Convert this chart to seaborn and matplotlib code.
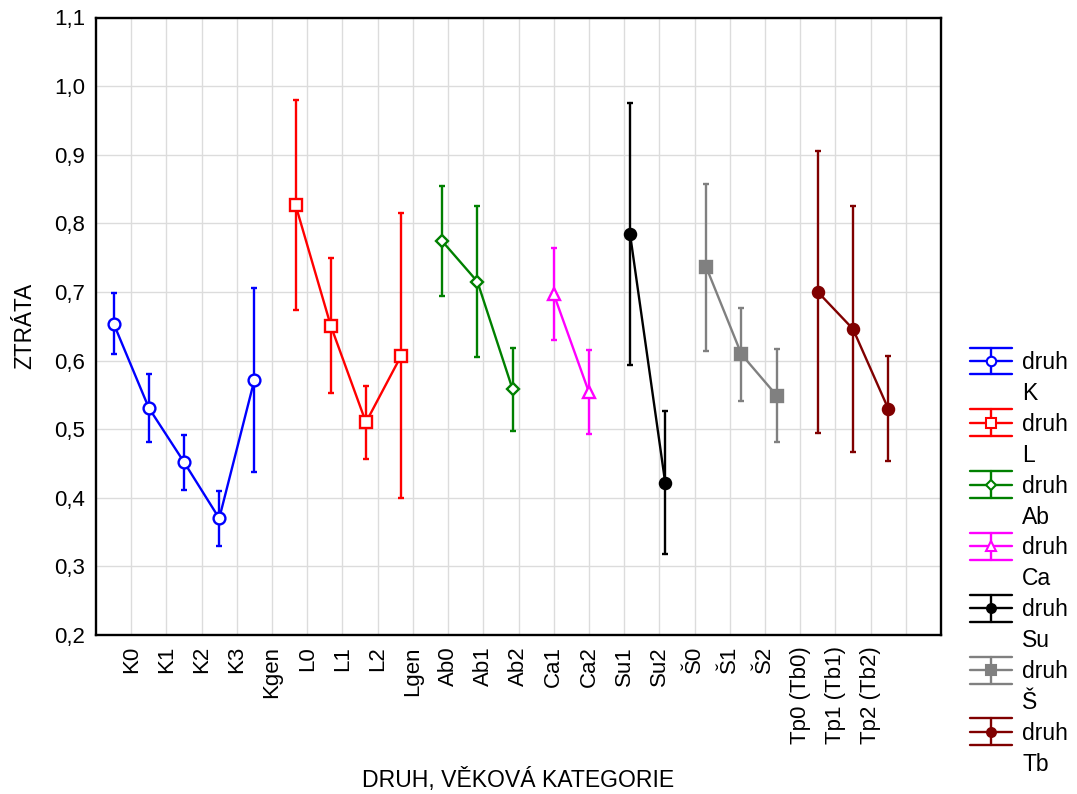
import numpy as np
import pandas as pd
import matplotlib
matplotlib.use("Agg")
import matplotlib.pyplot as plt
import seaborn as sns
from matplotlib.lines import Line2D
from matplotlib.patches import Rectangle
from matplotlib.legend_handler import HandlerBase
from matplotlib.ticker import FuncFormatter, MultipleLocator

# ---------------- data ----------------
categories = ["K0", "K1", "K2", "K3", "Kgen", "L0", "L1", "L2", "Lgen",
              "Ab0", "Ab1", "Ab2", "Ca1", "Ca2", "Su1", "Su2",
              "Š0", "Š1", "Š2", "Tp0 (Tb0)", "Tp1 (Tb1)", "Tp2 (Tb2)"]
series_names = ["K", "L", "Ab", "Ca", "Su", "Š", "Tb"]

mean_K = [0.654, 0.531, 0.452, 0.370, 0.572]
mean_L = [0.827, 0.651, 0.510, 0.607]
mean_Ab = [0.774, 0.715, 0.558]
mean_Ca = [0.697, 0.554]
mean_Su = [0.785, 0.422]
mean_S = [0.736, 0.609, 0.549]
mean_Tb = [0.700, 0.646, 0.530]

ci_K = [0.045, 0.050, 0.040, 0.040, 0.134]
ci_L = [0.153, 0.099, 0.053, 0.208]
ci_Ab = [0.080, 0.110, 0.061]
ci_Ca = [0.067, 0.061]
ci_Su = [0.191, 0.104]
ci_S = [0.122, 0.068, 0.068]
ci_Tb = [0.206, 0.179, 0.076]

means = {"K": mean_K, "L": mean_L, "Ab": mean_Ab, "Ca": mean_Ca,
         "Su": mean_Su, "Š": mean_S, "Tb": mean_Tb}
cis = {"K": ci_K, "L": ci_L, "Ab": ci_Ab, "Ca": ci_Ca,
       "Su": ci_Su, "Š": ci_S, "Tb": ci_Tb}

colors = {"K": "#0000FF", "L": "#FF0000", "Ab": "#008000", "Ca": "#FF00FF",
          "Su": "#000000", "Š": "#808080", "Tb": "#800000"}
markers = {"K": "o", "L": "s", "Ab": "D", "Ca": "^", "Su": "o", "Š": "s", "Tb": "o"}
msizes = {"K": 8.5, "L": 8.5, "Ab": 6.5, "Ca": 8.5, "Su": 8.0, "Š": 8.5, "Tb": 8.0}
filled = {"K": False, "L": False, "Ab": False, "Ca": False, "Su": True, "Š": True, "Tb": True}

# ---------------- style ----------------
sns.set_theme(style="white")
plt.rcParams["font.family"] = ["Liberation Sans", "DejaVu Sans"]
plt.rcParams["text.color"] = "black"
plt.rcParams["axes.labelcolor"] = "black"
plt.rcParams["xtick.color"] = "black"
plt.rcParams["ytick.color"] = "black"

FS = 16
W, H = 1077, 794
fig = plt.figure(figsize=(W / 100, H / 100), dpi=100)
fig.patch.set_facecolor("white")
ax_l, ax_r, ax_t, ax_b = 96, 941, 17.5, 635
ax = fig.add_axes([ax_l / W, 1 - ax_b / H, (ax_r - ax_l) / W, (ax_b - ax_t) / H])

dodge = 1.0 / 6.0
lw = 1.7
legend_handles = []
legend_labels = []
start = 0
for s, name in enumerate(series_names):
    m = np.array(means[name])
    h = np.array(cis[name])
    n = len(m)
    pos = np.arange(start, start + n) + 0.5 + s * dodge
    start += n
    df = pd.DataFrame({"x": np.concatenate([pos, pos]),
                       "y": np.concatenate([m - h, m + h])})
    c = colors[name]
    mfc = c if filled[name] else "white"
    sns.lineplot(data=df, x="x", y="y", ax=ax, estimator="mean",
                 errorbar=("pi", 100), err_style="bars",
                 color=c, linewidth=lw, marker=markers[name],
                 markersize=msizes[name], markerfacecolor=mfc,
                 markeredgecolor=c, markeredgewidth=1.7, zorder=4,
                 err_kws=dict(capsize=2.5, elinewidth=lw, capthick=lw, zorder=3))
    legend_handles.append(Line2D([], [], color=c, marker=markers[name],
                                 markersize=msizes[name] * 0.8, markerfacecolor=mfc))
    legend_labels.append("druh")
    legend_handles.append(Rectangle((0, 0), 1, 1, facecolor="none", edgecolor="none"))
    legend_labels.append(name)

# ---------------- axes ----------------
ax.set_xlim(0, 24)
ax.set_ylim(0.2, 1.1)
ax.set_xticks(np.arange(1, 24))
ax.set_xticklabels(categories + [""], rotation=90, fontsize=FS)
ax.yaxis.set_major_locator(MultipleLocator(0.1))
ax.yaxis.set_major_formatter(FuncFormatter(lambda v, p: f"{v:.1f}".replace(".", ",")))
ax.tick_params(axis="both", direction="in", length=4, width=1.2, colors="black",
               labelsize=FS, pad=8)
ax.grid(True, color="#dcdcdc", linewidth=1.0)
ax.set_axisbelow(True)
for sp in ax.spines.values():
    sp.set_visible(True)
    sp.set_color("black")
    sp.set_linewidth(1.7)

ax.set_xlabel("DRUH, VĚKOVÁ KATEGORIE", fontsize=16.6, va="center")
ax.set_ylabel("ZTRÁTA", fontsize=16.3, va="center")
ax.xaxis.set_label_coords(0.5, (ax_b - 780) / (ax_b - ax_t))
ax.yaxis.set_label_coords((25 - ax_l) / (ax_r - ax_l), 0.5)


# ---------------- legend ----------------
class StatHandler(HandlerBase):
    def create_artists(self, legend, orig, xdescent, ydescent, width, height,
                       fontsize, trans):
        yc = height / 2 - ydescent
        d = 9.7
        x0, x1 = -xdescent, -xdescent + width
        xc = (x0 + x1) / 2
        c = orig.get_color()
        arts = []
        for yy in (yc - d, yc, yc + d):
            arts.append(Line2D([x0, x1], [yy, yy], color=c, lw=lw, transform=trans))
        arts.append(Line2D([xc, xc], [yc - d, yc + d], color=c, lw=lw, transform=trans))
        arts.append(Line2D([xc], [yc], marker=orig.get_marker(),
                           markersize=orig.get_markersize(),
                           markerfacecolor=orig.get_markerfacecolor(),
                           markeredgecolor=c, markeredgewidth=1.5,
                           linestyle="none", transform=trans))
        return arts


leg = fig.legend(legend_handles, legend_labels, loc="upper left",
                 bbox_to_anchor=(970 / W, 1 - 351 / H), frameon=False,
                 fontsize=16.5, handlelength=1.83, handletextpad=0.44,
                 labelspacing=0.345, borderpad=0, borderaxespad=0,
                 handler_map={Line2D: StatHandler()})

fig.savefig("out.png", dpi=100, facecolor="white")
